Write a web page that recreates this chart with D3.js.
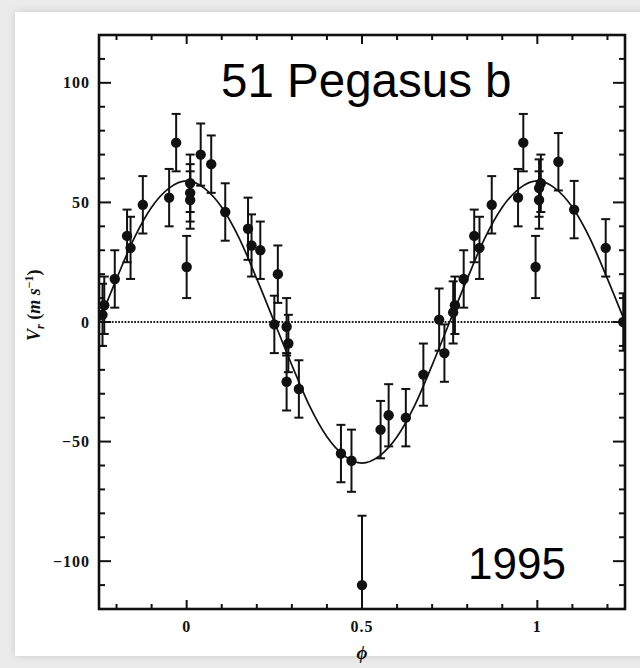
<!DOCTYPE html>
<html>
<head>
<meta charset="utf-8">
<script src="https://cdn.jsdelivr.net/npm/d3@7"></script>
<style>
  body { margin: 0; background: #ececec; }
  svg { display: block; }
</style>
</head>
<body>
<div id="app"></div>
<script>
// radial velocity of 51 Peg vs orbital phase
const phases = [-0.24, -0.235, -0.205, -0.17, -0.16, -0.125, -0.05, -0.03,
  0.0, 0.01, 0.01, 0.01, 0.04, 0.07, 0.11, 0.175, 0.185, 0.21, 0.26, 0.25,
  0.285, 0.29, 0.285, 0.32, 0.44, 0.47, 0.5, 0.553, 0.576, 0.625, 0.675,
  0.72, 0.735, 0.76, 0.765, 0.79, 0.82, 0.835, 0.87, 0.945, 0.96, 0.995,
  1.005, 1.005, 1.01, 1.06, 1.105, 1.195, 1.245]
const velocities = [3, 7, 18, 36, 31, 49, 52, 75,
  23, 58, 54, 51, 70, 66, 46, 39, 32, 30, 20, -1,
  -2, -9, -25, -28, -55, -58, -110, -45, -39, -40, -22,
  1, -13, 4, 7, 18, 36, 31, 49, 52, 75, 23,
  56, 51, 58, 67, 47, 31, 0]
const errors = [13, 12, 12, 11, 13, 12, 12, 12,
  13, 12, 12, 12, 13, 12, 12, 13, 13, 12, 12, 12,
  12, 12, 12, 12, 12, 13, 29, 12, 13, 12, 13,
  13, 12, 13, 12, 12, 11, 13, 12, 12, 12, 13,
  12, 12, 12, 12, 12, 12, 12]

// fitted orbit
const fitPhase = [-0.25, -0.2, -0.15, -0.1, -0.05, 0, 0.05, 0.1, 0.15, 0.2, 0.25,
  0.3, 0.35, 0.4, 0.45, 0.5, 0.55, 0.6, 0.65, 0.7, 0.75, 0.8, 0.85, 0.9, 0.95,
  1, 1.05, 1.1, 1.15, 1.2, 1.25]
const fitVel = [0, 18, 35, 48, 56, 59, 56, 48, 35, 18, 0,
  -18, -35, -48, -56, -59, -56, -48, -35, -18, 0, 18, 35, 48, 56,
  59, 56, 48, 35, 18, 0]

const xMajor = [0, 0.5, 1]
const xMinor = [-0.2, -0.1, 0.1, 0.2, 0.3, 0.4, 0.6, 0.7, 0.8, 0.9, 1.1, 1.2]
const yMajor = [-100, -50, 0, 50, 100]
const yMinor = [-110, -90, -80, -70, -60, -40, -30, -20, -10, 10, 20, 30, 40, 60, 70, 80, 90, 110]

const width = 640
const height = 668
const marginLeft = 99
const marginRight = 15
const marginTop = 35
const marginBottom = 59

const serif = '"Liberation Serif", "DejaVu Serif", serif'
const sans = '"Liberation Sans", Arial, sans-serif'

const x = d3.scaleLinear()
  .domain([-0.25, 1.25])
  .range([marginLeft, width - marginRight])

const y = d3.scaleLinear()
  .domain([-120, 120])
  .range([height - marginBottom, marginTop])

const svg = d3.select("#app")
  .append("svg")
  .attr("width", width)
  .attr("height", height)

// slide background with a soft shadow
const defs = svg.append("defs")
const shadow = defs.append("filter").attr("id", "shadow")
  .attr("x", "-5%").attr("y", "-5%").attr("width", "110%").attr("height", "110%")
shadow.append("feGaussianBlur").attr("stdDeviation", 4)
defs.append("clipPath").attr("id", "plotclip")
  .append("rect")
  .attr("x", marginLeft).attr("y", marginTop)
  .attr("width", width - marginLeft - marginRight)
  .attr("height", height - marginTop - marginBottom)

svg.append("rect")
  .attr("x", 15).attr("y", 12).attr("width", 640).attr("height", 644)
  .attr("fill", "#c8c8c8").attr("filter", "url(#shadow)")
svg.append("rect")
  .attr("x", 15).attr("y", 12).attr("width", 640).attr("height", 644)
  .attr("fill", "#fff")

const plot = svg.append("g").attr("clip-path", "url(#plotclip)")

// zero line
plot.append("line")
  .attr("x1", x(-0.25)).attr("x2", x(1.25))
  .attr("y1", y(0)).attr("y2", y(0))
  .attr("stroke", "#222")
  .attr("stroke-width", 1.8)
  .attr("stroke-dasharray", "1.8,1.4")

// fitted curve
plot.append("path")
  .datum(fitPhase.map((p, i) => ({ phase: p, v: fitVel[i] })))
  .attr("fill", "none")
  .attr("stroke", "#111")
  .attr("stroke-width", 1.7)
  .attr("d", d3.line()
    .x(d => x(d.phase))
    .y(d => y(d.v))
    .curve(d3.curveCardinal))

const points = phases.map((p, i) => ({ phase: p, v: velocities[i], err: errors[i] }))

// error bars
const bars = plot.append("g").attr("stroke", "#111").attr("stroke-width", 2)
bars.selectAll(".bar").data(points).join("line")
  .attr("x1", d => x(d.phase)).attr("x2", d => x(d.phase))
  .attr("y1", d => y(d.v + d.err)).attr("y2", d => y(d.v - d.err))
const caps = points.flatMap(d => [d.v + d.err, d.v - d.err].map(c => ({ phase: d.phase, c })))
bars.selectAll(".cap").data(caps).join("line")
  .attr("x1", d => x(d.phase) - 4.5).attr("x2", d => x(d.phase) + 4.5)
  .attr("y1", d => y(d.c)).attr("y2", d => y(d.c))

plot.append("g").selectAll("circle").data(points).join("circle")
  .attr("cx", d => x(d.phase))
  .attr("cy", d => y(d.v))
  .attr("r", 5.2)
  .attr("fill", "#111")

// frame
svg.append("rect")
  .attr("x", x(-0.25)).attr("y", y(120))
  .attr("width", x(1.25) - x(-0.25))
  .attr("height", y(-120) - y(120))
  .attr("fill", "none")
  .attr("stroke", "#111")
  .attr("stroke-width", 2.6)

// inward ticks on all four sides
const tickG = svg.append("g").attr("stroke", "#111").attr("stroke-width", 2)
const xTicks = xMajor.map(v => ({ v, len: 9 })).concat(xMinor.map(v => ({ v, len: 5 })))
tickG.selectAll(".xb").data(xTicks).join("line")
  .attr("x1", d => x(d.v)).attr("x2", d => x(d.v))
  .attr("y1", y(-120)).attr("y2", d => y(-120) - d.len)
tickG.selectAll(".xt").data(xTicks).join("line")
  .attr("x1", d => x(d.v)).attr("x2", d => x(d.v))
  .attr("y1", y(120)).attr("y2", d => y(120) + d.len)
const yTicks = yMajor.map(v => ({ v, len: 12 })).concat(yMinor.map(v => ({ v, len: 6 })))
tickG.selectAll(".yl").data(yTicks).join("line")
  .attr("y1", d => y(d.v)).attr("y2", d => y(d.v))
  .attr("x1", x(-0.25)).attr("x2", d => x(-0.25) + d.len)
tickG.selectAll(".yr").data(yTicks).join("line")
  .attr("y1", d => y(d.v)).attr("y2", d => y(d.v))
  .attr("x1", x(1.25)).attr("x2", d => x(1.25) - d.len)

// tick labels
svg.append("g").selectAll("text").data(yMajor).join("text")
  .attr("x", marginLeft - 9)
  .attr("y", d => y(d))
  .attr("dy", "0.35em")
  .attr("text-anchor", "end")
  .style("font", `bold 16px ${serif}`)
  .style("letter-spacing", "1px")
  .attr("fill", "#111")
  .text(d => d < 0 ? "\u2212" + Math.abs(d) : d)

svg.append("g").selectAll("text").data(xMajor).join("text")
  .attr("x", d => x(d))
  .attr("y", y(-120) + 23)
  .attr("text-anchor", "middle")
  .style("font", `bold 16px ${serif}`)
  .style("letter-spacing", "1px")
  .attr("fill", "#111")
  .text(d => d)

svg.append("text")
  .attr("x", x(0.5))
  .attr("y", y(-120) + 50)
  .attr("text-anchor", "middle")
  .style("font", `bold italic 19px ${serif}`)
  .attr("fill", "#111")
  .text("\u03d5")

const ylab = svg.append("text")
  .attr("transform", `translate(40, ${y(7)}) rotate(-90)`)
  .attr("text-anchor", "middle")
  .style("font", `bold 18px ${serif}`)
  .attr("fill", "#111")
ylab.append("tspan").style("font-style", "italic").text("V")
ylab.append("tspan").attr("dy", 4).style("font-size", "12px").style("font-style", "italic").text("r")
ylab.append("tspan").attr("dy", -4).text(" (")
ylab.append("tspan").style("font-style", "italic").text("m s")
ylab.append("tspan").attr("dy", -7).style("font-size", "12px").text("\u22121")
ylab.append("tspan").attr("dy", 7).text(")")

// annotations
svg.append("text")
  .attr("x", 221).attr("y", 97)
  .style("font", `47.5px ${sans}`)
  .attr("fill", "#000")
  .text("51 Pegasus b")
svg.append("text")
  .attr("x", 468).attr("y", 579)
  .style("font", `44px ${sans}`)
  .attr("fill", "#000")
  .text("1995")
</script>
</body>
</html>
